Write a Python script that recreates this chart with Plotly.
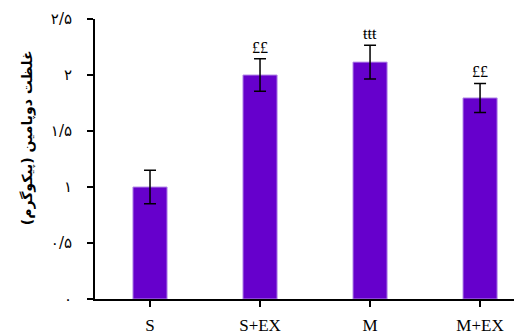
import plotly.graph_objects as go

categories = ["S", "S+EX", "M", "M+EX"]
values = [1.0, 2.0, 2.115, 1.795]
errors = [0.15, 0.145, 0.15, 0.13]
marks = ["", "££", "ŧŧŧ", "££"]
ytick_vals = [0, 0.5, 1, 1.5, 2, 2.5]
ytick_text = ["۰", "۰/۵", "۱", "۱/۵", "۲", "۲/۵"]
y_title = "غلظت دوپامین (پیکوگرم)"

fig = go.Figure()
fig.add_trace(go.Bar(
    x=list(range(len(categories))), y=values, width=0.31,
    marker=dict(color="#6600CC", line=dict(color="#B58CE8", width=1)),
    error_y=dict(type="data", array=errors, visible=True, color="black", thickness=1.5, width=6),
))
for i, (v, e, m) in enumerate(zip(values, errors, marks)):
    if m:
        fig.add_annotation(x=i, y=v + e, text=m, showarrow=False, yanchor="bottom", yshift=1,
                           font=dict(family="Liberation Serif", size=16, color="black"))

fig.add_annotation(xref="paper", yref="paper", x=-0.156, y=0.575, text="<b>" + y_title + "</b>",
                   textangle=-90, showarrow=False, xanchor="center", yanchor="middle",
                   font=dict(family="DejaVu Sans", size=14, color="black"))

fig.update_layout(
    width=522, height=336, margin=dict(l=87, r=0, t=11, b=45, autoexpand=False),
    plot_bgcolor="white", paper_bgcolor="white", showlegend=False,
)
fig.update_xaxes(
    range=[-0.5, 3.454], tickvals=[0, 1, 2, 3], ticktext=categories,
    showline=True, linecolor="#000000", linewidth=2, ticks="outside", ticklen=6,
    tickcolor="black", tickwidth=1.5, showgrid=False, zeroline=False, automargin=False,
    ticklabelstandoff=4,
    tickfont=dict(family="Liberation Serif", size=17, color="black"),
)
fig.update_xaxes(tickson="boundaries")
fig.update_yaxes(
    range=[0, 2.5], tickvals=ytick_vals, ticktext=ytick_text,
    showline=True, linecolor="#000000", linewidth=2, ticks="outside", ticklen=6,
    tickcolor="black", tickwidth=1.5, showgrid=False, zeroline=False, automargin=False,
    ticklabelstandoff=12,
    tickfont=dict(family="DejaVu Sans", size=15, color="black"),
)
fig.write_html("out.html")
